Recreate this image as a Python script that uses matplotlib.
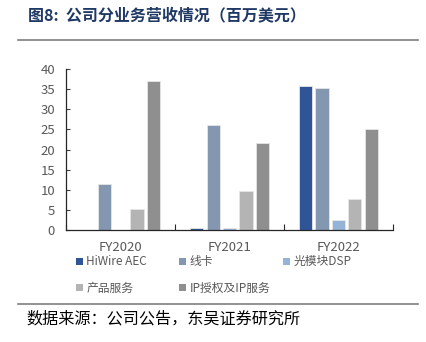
import numpy as np
import matplotlib
matplotlib.use('Agg')
import matplotlib.pyplot as plt
from matplotlib.patches import Patch
from matplotlib.lines import Line2D

plt.rcParams['font.family'] = ['Noto Sans CJK SC', 'DejaVu Sans']

years = ['FY2020', 'FY2021', 'FY2022']
segments = ['HiWire AEC', '线卡', '光模块DSP', '产品服务', 'IP授权及IP服务']
hiwire = [0.0, 0.6, 35.8]
line_card = [11.4, 26.1, 35.3]
dsp = [0.1, 0.6, 2.6]
product_service = [5.3, 9.6, 7.7]
ip_service = [37.0, 21.6, 25.0]
colors = ['#2F5597', '#8497B0', '#95B3D7', '#B4B4B4', '#8F8F8F']

series = [hiwire, line_card, dsp, product_service, ip_service]

fig = plt.figure(figsize=(4.26, 3.42), dpi=100)
ax = fig.add_axes([0.155, 0.3275, 0.7675, 0.4705])

x = np.arange(len(years))
step = 0.151
for i, vals in enumerate(series):
    ax.bar(x + (i - 2) * step, vals, width=0.12, color=colors[i],
           edgecolor='#E6E6E6', linewidth=0.6)

ax.set_xlim(-0.5, 2.5)
ax.set_ylim(0, 40)
ax.set_yticks(range(0, 41, 5))
ax.tick_params(axis='y', direction='in', length=3, width=0.8, color='#404040',
               labelsize=9.5, labelcolor='#595959', pad=8)
ax.set_xticks([-0.5, 0.5, 1.5, 2.5])
ax.set_xticklabels([])
ax.set_xticks(x, minor=True)
ax.set_xticklabels(years, minor=True)
ax.tick_params(axis='x', which='major', direction='in', length=4, width=0.8, color='#262626')
ax.tick_params(axis='x', which='minor', length=0, labelsize=9.5, labelcolor='#595959', pad=8)
for s in ['top', 'right']:
    ax.spines[s].set_visible(False)
ax.spines['left'].set_color('#262626')
ax.spines['bottom'].set_color('#262626')
ax.spines['left'].set_linewidth(0.9)
ax.spines['bottom'].set_linewidth(0.9)

# legend laid out row by row, three fixed columns
leg_x = [0.178, 0.42, 0.664]
leg_y = [0.234, 0.158]
for i, (lab, c) in enumerate(zip(segments, colors)):
    fig.legend([Patch(facecolor=c, edgecolor='none')], [lab], loc='center left',
               bbox_to_anchor=(leg_x[i % 3], leg_y[i // 3]), frameon=False,
               fontsize=8.5, labelcolor='#595959', handlelength=0.6, handleheight=0.6,
               handletextpad=0.3, borderpad=0, borderaxespad=0)

fig.text(0.066, 0.956, '图8:  公司分业务营收情况（百万美元）', fontsize=11.5, fontweight='bold',
         color='#1F3864', va='center')
fig.add_artist(Line2D([0.042, 0.982], [0.883, 0.883], color='#7F7F7F', linewidth=1.2))
fig.add_artist(Line2D([0.042, 0.982], [0.111, 0.111], color='#7F7F7F', linewidth=1.2))
fig.text(0.063, 0.067, '数据来源：公司公告，东吴证券研究所', fontsize=11.6, color='#000000', va='center')

fig.savefig('out.png', dpi=100)
